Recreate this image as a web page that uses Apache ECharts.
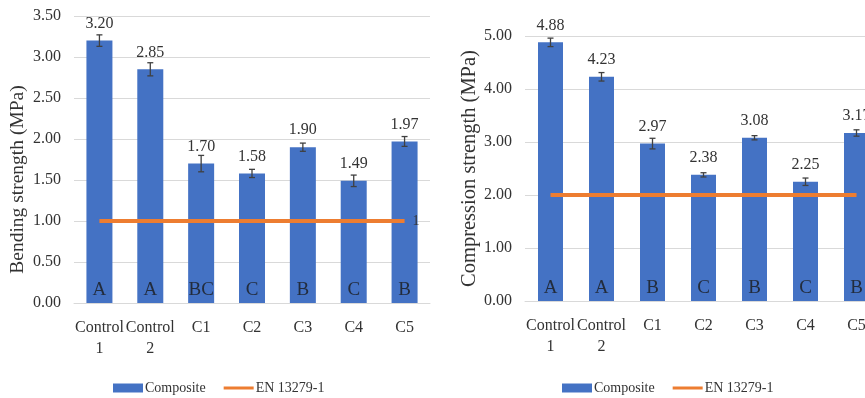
<!DOCTYPE html>
<html>
<head>
<meta charset="utf-8">
<script src="https://cdn.jsdelivr.net/npm/echarts@6/dist/echarts.min.js"></script>
<style>
  html, body { margin: 0; padding: 0; background: #fff; }
  #chart { width: 865px; height: 398px; }
</style>
</head>
<body>
<div id="chart"></div>
<script>
// Sample groups shown on the horizontal axes
const categories = ['Control\n1', 'Control\n2', 'C1', 'C2', 'C3', 'C4', 'C5'];

// Bending strength (MPa): means, standard deviations, significance groups
const bendingValues = [3.20, 2.85, 1.70, 1.58, 1.90, 1.49, 1.97];
const bendingErrors = [0.07, 0.08, 0.10, 0.05, 0.05, 0.07, 0.06];
const bendingGroups = ['A', 'A', 'BC', 'C', 'B', 'C', 'B'];
const bendingStandard = 1;

// Compression strength (MPa): means, standard deviations, significance groups
const compressionValues = [4.88, 4.23, 2.97, 2.38, 3.08, 2.25, 3.17];
const compressionErrors = [0.08, 0.08, 0.10, 0.04, 0.04, 0.07, 0.06];
const compressionGroups = ['A', 'A', 'B', 'C', 'B', 'C', 'B'];
const compressionStandard = 2;

// Axis ranges and tick steps
const bendingAxis = { min: 0, max: 3.5, interval: 0.5 };
const compressionAxis = { min: 0, max: 5, interval: 1 };

const FONT = "'Liberation Serif', 'Times New Roman', serif";
const TEXT = '#333333';
const BLUE = '#4472C4';
const ORANGE = '#ED7D31';
const GRID = '#D9D9D9';

function errorBarRenderer(params, api) {
  const x = api.value(0);
  const lo = api.coord([x, api.value(1)]);
  const hi = api.coord([x, api.value(2)]);
  const half = 3;
  const style = { stroke: '#404040', lineWidth: 1.3 };
  return {
    type: 'group',
    children: [
      { type: 'line', shape: { x1: lo[0], y1: lo[1], x2: hi[0], y2: hi[1] }, style },
      { type: 'line', shape: { x1: lo[0] - half, y1: lo[1], x2: lo[0] + half, y2: lo[1] }, style },
      { type: 'line', shape: { x1: hi[0] - half, y1: hi[1], x2: hi[0] + half, y2: hi[1] }, style }
    ]
  };
}

function panelSeries(axisIndex, values, errors, groups, standard, endText, barWidth) {
  return [
    {
      name: 'Composite',
      type: 'bar',
      xAxisIndex: axisIndex,
      yAxisIndex: axisIndex,
      data: values,
      barWidth: barWidth,
      itemStyle: { color: BLUE },
      label: {
        show: true,
        position: 'top',
        distance: 9,
        color: TEXT,
        fontFamily: FONT,
        fontSize: 16,
        formatter: p => p.value.toFixed(2)
      },
      z: 2
    },
    {
      name: 'EN 13279-1',
      type: 'line',
      xAxisIndex: axisIndex,
      yAxisIndex: axisIndex,
      data: categories.map(() => standard),
      symbol: 'none',
      lineStyle: { color: ORANGE, width: 4 },
      itemStyle: { color: ORANGE },
      endLabel: {
        show: true,
        formatter: endText,
        color: TEXT,
        fontFamily: FONT,
        fontSize: 14,
        distance: 8
      },
      z: 4
    },
    {
      name: 'error',
      type: 'custom',
      xAxisIndex: axisIndex,
      yAxisIndex: axisIndex,
      data: values.map((v, i) => [i, v - errors[i], v + errors[i]]),
      renderItem: errorBarRenderer,
      silent: true,
      z: 5
    },
    {
      name: 'groups',
      type: 'scatter',
      xAxisIndex: axisIndex,
      yAxisIndex: axisIndex,
      data: groups.map((g, i) => [i, 0]),
      symbolSize: 0,
      silent: true,
      label: {
        show: true,
        position: 'top',
        distance: 3,
        color: '#1a1a1a',
        fontFamily: FONT,
        fontSize: 19,
        formatter: p => groups[p.dataIndex]
      },
      z: 6
    }
  ];
}

function xAxisFor(gridIndex) {
  return {
    type: 'category',
    gridIndex: gridIndex,
    data: categories,
    axisLine: { show: true, lineStyle: { color: GRID, width: 1 } },
    axisTick: { show: false },
    axisLabel: {
      color: TEXT,
      fontFamily: FONT,
      fontSize: 16,
      lineHeight: 21,
      margin: 14,
      interval: 0
    }
  };
}

function yAxisFor(gridIndex, range, title, gap, titleSize, titlePadding) {
  return {
    type: 'value',
    gridIndex: gridIndex,
    min: range.min,
    max: range.max,
    interval: range.interval,
    name: title,
    nameLocation: 'middle',
    nameGap: gap,
    nameTextStyle: { color: TEXT, fontFamily: FONT, fontSize: titleSize, padding: titlePadding },
    axisLine: { show: false },
    axisTick: { show: false },
    splitLine: { lineStyle: { color: GRID, width: 1 } },
    axisLabel: {
      color: TEXT,
      fontFamily: FONT,
      fontSize: 16,
      margin: 13,
      formatter: v => v.toFixed(2)
    }
  };
}

function legendAt(left) {
  return {
    left: left,
    top: 376,
    itemWidth: 30,
    itemHeight: 9,
    itemGap: 18,
    data: [
      { name: 'Composite', icon: 'rect' },
      { name: 'EN 13279-1', icon: 'path://M0,0 L30,0 L30,3 L0,3 Z' }
    ],
    textStyle: { color: TEXT, fontFamily: FONT, fontSize: 14, padding: [0, 0, 0, -3] }
  };
}

const chart = echarts.init(document.getElementById('chart'), null, { renderer: 'canvas' });

chart.setOption({
  animation: false,
  backgroundColor: '#ffffff',
  grid: [
    { left: 74, top: 16, width: 356, height: 287, outerBoundsMode: 'none', containLabel: false },
    { left: 525, top: 36, width: 357, height: 265, outerBoundsMode: 'none', containLabel: false }
  ],
  xAxis: [xAxisFor(0), xAxisFor(1)],
  yAxis: [
    yAxisFor(0, bendingAxis, 'Bending strength (MPa)', 46, 19.5, [0, 40, 0, 0]),
    yAxisFor(1, compressionAxis, 'Compression strength (MPa)', 44, 20.5, [0, 0, 0, 0])
  ],
  legend: [legendAt(108), legendAt(557)],
  series: [
    ...panelSeries(0, bendingValues, bendingErrors, bendingGroups, bendingStandard, '1', 26),
    ...panelSeries(1, compressionValues, compressionErrors, compressionGroups, compressionStandard, '2', 25)
  ]
});
</script>
</body>
</html>
